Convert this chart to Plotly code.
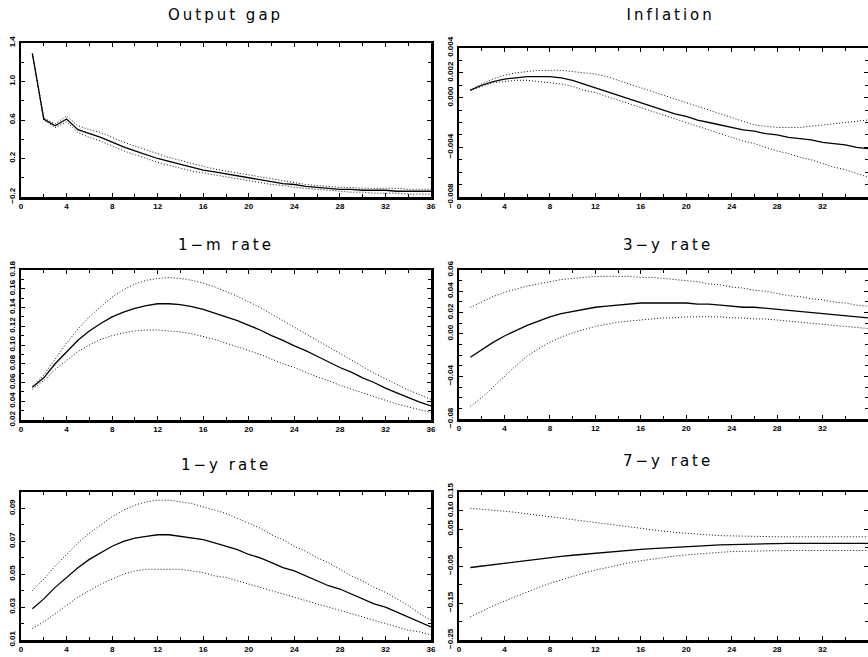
import plotly.graph_objects as go
from plotly.subplots import make_subplots

periods = list(range(1, 37))

titles = ["Output gap", "Inflation", "1−m rate", "3−y rate", "1−y rate", "7−y rate"]

gap_mean = [1.29, 0.61, 0.54, 0.61, 0.50, 0.46, 0.42, 0.37, 0.32, 0.28, 0.24, 0.20, 0.17, 0.14, 0.11, 0.08, 0.06, 0.04,
            0.02, 0.00, -0.02, -0.04, -0.06, -0.07, -0.09, -0.10, -0.11, -0.12, -0.12, -0.13, -0.13, -0.13, -0.14, -0.14, -0.14, -0.14]
gap_upper = [1.29, 0.62, 0.56, 0.64, 0.54, 0.50, 0.47, 0.42, 0.37, 0.33, 0.29, 0.25, 0.21, 0.18, 0.15, 0.12, 0.09, 0.07,
             0.05, 0.03, 0.01, -0.01, -0.03, -0.05, -0.07, -0.08, -0.09, -0.10, -0.10, -0.11, -0.11, -0.11, -0.11, -0.12, -0.12, -0.12]
gap_lower = [1.29, 0.60, 0.52, 0.58, 0.47, 0.42, 0.38, 0.33, 0.28, 0.24, 0.20, 0.16, 0.13, 0.10, 0.07, 0.05, 0.03, 0.01,
             -0.01, -0.03, -0.05, -0.07, -0.08, -0.10, -0.11, -0.12, -0.13, -0.14, -0.15, -0.15, -0.16, -0.16, -0.16, -0.17, -0.17, -0.17]

infl_mean = [0.0006, 0.0010, 0.0013, 0.0015, 0.0016, 0.0017, 0.0017, 0.0017, 0.0016, 0.0014, 0.0011, 0.0008, 0.0005, 0.0002,
             -0.0001, -0.0004, -0.0007, -0.0010, -0.0013, -0.0015, -0.0018, -0.0020, -0.0022, -0.0024, -0.0026, -0.0027,
             -0.0029, -0.0030, -0.0032, -0.0033, -0.0034, -0.0036, -0.0037, -0.0038, -0.0040, -0.0041]
infl_upper = [0.0006, 0.0011, 0.0015, 0.0018, 0.0020, 0.0021, 0.0022, 0.0022, 0.0022, 0.0021, 0.0020, 0.0019, 0.0017, 0.0014,
              0.0011, 0.0008, 0.0005, 0.0002, -0.0001, -0.0004, -0.0007, -0.0010, -0.0013, -0.0016, -0.0019, -0.0022,
              -0.0023, -0.0024, -0.0024, -0.0024, -0.0023, -0.0022, -0.0021, -0.0020, -0.0019, -0.0018]
infl_lower = [0.0006, 0.0009, 0.0012, 0.0013, 0.0014, 0.0014, 0.0013, 0.0012, 0.0011, 0.0009, 0.0006, 0.0004, 0.0001, -0.0002,
              -0.0005, -0.0008, -0.0011, -0.0014, -0.0017, -0.0020, -0.0023, -0.0026, -0.0029, -0.0032, -0.0035, -0.0037,
              -0.0040, -0.0043, -0.0045, -0.0048, -0.0050, -0.0053, -0.0056, -0.0058, -0.0061, -0.0064]

m1_mean = [0.055, 0.065, 0.080, 0.093, 0.105, 0.115, 0.123, 0.130, 0.135, 0.139, 0.142, 0.144, 0.144, 0.143, 0.141, 0.138,
           0.134, 0.130, 0.126, 0.121, 0.116, 0.110, 0.105, 0.099, 0.094, 0.088, 0.082, 0.076, 0.071, 0.065, 0.060, 0.054,
           0.049, 0.044, 0.039, 0.035]
m1_upper = [0.056, 0.068, 0.085, 0.102, 0.117, 0.130, 0.141, 0.151, 0.159, 0.165, 0.169, 0.171, 0.172, 0.171, 0.169, 0.166,
            0.162, 0.157, 0.152, 0.146, 0.140, 0.133, 0.126, 0.119, 0.112, 0.105, 0.098, 0.091, 0.084, 0.077, 0.070, 0.064,
            0.058, 0.052, 0.047, 0.042]
m1_lower = [0.053, 0.062, 0.074, 0.084, 0.093, 0.100, 0.106, 0.110, 0.113, 0.115, 0.116, 0.116, 0.115, 0.114, 0.112, 0.109,
            0.106, 0.102, 0.098, 0.094, 0.090, 0.085, 0.080, 0.076, 0.071, 0.066, 0.062, 0.057, 0.053, 0.049, 0.045, 0.041,
            0.037, 0.034, 0.031, 0.028]

y3_mean = [-0.022, -0.015, -0.008, -0.002, 0.003, 0.008, 0.012, 0.016, 0.019, 0.021, 0.023, 0.025, 0.026, 0.027, 0.028, 0.029,
           0.029, 0.029, 0.029, 0.029, 0.028, 0.028, 0.027, 0.026, 0.025, 0.025, 0.024, 0.023, 0.022, 0.021, 0.020, 0.019,
           0.018, 0.017, 0.016, 0.015]
y3_upper = [0.025, 0.030, 0.035, 0.039, 0.042, 0.045, 0.047, 0.049, 0.051, 0.052, 0.053, 0.054, 0.054, 0.054, 0.054, 0.053,
            0.053, 0.052, 0.051, 0.050, 0.049, 0.047, 0.046, 0.044, 0.043, 0.041, 0.040, 0.038, 0.036, 0.035, 0.033, 0.032,
            0.030, 0.029, 0.027, 0.026]
y3_lower = [-0.068, -0.060, -0.050, -0.040, -0.030, -0.021, -0.014, -0.008, -0.003, 0.001, 0.004, 0.007, 0.009, 0.011, 0.012,
            0.013, 0.014, 0.015, 0.015, 0.016, 0.016, 0.016, 0.016, 0.015, 0.015, 0.014, 0.014, 0.013, 0.012, 0.011, 0.010,
            0.009, 0.008, 0.007, 0.006, 0.005]

y1_mean = [0.029, 0.035, 0.042, 0.048, 0.054, 0.059, 0.063, 0.067, 0.070, 0.072, 0.073, 0.074, 0.074, 0.073, 0.072, 0.071,
           0.069, 0.067, 0.065, 0.062, 0.060, 0.057, 0.054, 0.052, 0.049, 0.046, 0.043, 0.041, 0.038, 0.035, 0.032, 0.030,
           0.027, 0.024, 0.021, 0.018]
y1_upper = [0.040, 0.047, 0.055, 0.062, 0.069, 0.075, 0.080, 0.085, 0.089, 0.092, 0.094, 0.095, 0.095, 0.094, 0.093, 0.091,
            0.089, 0.087, 0.084, 0.081, 0.078, 0.074, 0.071, 0.067, 0.064, 0.060, 0.057, 0.053, 0.049, 0.046, 0.042, 0.039,
            0.035, 0.031, 0.026, 0.022]
y1_lower = [0.017, 0.021, 0.026, 0.031, 0.036, 0.040, 0.044, 0.047, 0.050, 0.052, 0.053, 0.053, 0.053, 0.053, 0.052, 0.051,
            0.049, 0.048, 0.046, 0.044, 0.042, 0.040, 0.038, 0.036, 0.034, 0.032, 0.030, 0.028, 0.026, 0.024, 0.022, 0.020,
            0.018, 0.016, 0.015, 0.013]

y7_mean = [-0.054, -0.050, -0.046, -0.042, -0.038, -0.034, -0.031, -0.027, -0.024, -0.021, -0.018, -0.015, -0.012, -0.010,
           -0.007, -0.005, -0.003, -0.001, 0.001, 0.003, 0.004, 0.006, 0.007, 0.008, 0.009, 0.010, 0.010, 0.011, 0.011,
           0.011, 0.011, 0.011, 0.011, 0.011, 0.011, 0.011]
y7_upper = [0.106, 0.104, 0.101, 0.098, 0.095, 0.091, 0.087, 0.083, 0.079, 0.075, 0.071, 0.066, 0.062, 0.058, 0.054, 0.050,
            0.047, 0.044, 0.041, 0.038, 0.036, 0.034, 0.032, 0.031, 0.030, 0.030, 0.029, 0.029, 0.029, 0.029, 0.029, 0.029,
            0.029, 0.029, 0.029, 0.029]
y7_lower = [-0.187, -0.172, -0.158, -0.145, -0.132, -0.120, -0.108, -0.097, -0.087, -0.078, -0.069, -0.061, -0.054, -0.047,
            -0.041, -0.036, -0.031, -0.027, -0.023, -0.020, -0.017, -0.015, -0.013, -0.011, -0.010, -0.009, -0.008, -0.008,
            -0.008, -0.008, -0.008, -0.008, -0.008, -0.008, -0.008, -0.008]

x_ticks = [0, 4, 8, 12, 16, 20, 24, 28, 32, 36]

# per panel: y range, labelled ticks, tick text, minor tick step
y_ranges = [[-0.2, 1.4], [-0.008, 0.004], [0.02, 0.18], [-0.08, 0.06], [0.01, 0.10], [-0.25, 0.15]]
y_tickvals = [
    [-0.2, 0.2, 0.6, 1.0, 1.4],
    [-0.008, -0.004, 0.0, 0.002, 0.004],
    [0.02, 0.04, 0.06, 0.08, 0.10, 0.12, 0.14, 0.16, 0.18],
    [-0.08, -0.04, 0.0, 0.02, 0.04, 0.06],
    [0.01, 0.03, 0.05, 0.07, 0.09],
    [-0.25, -0.15, -0.05, 0.05, 0.10, 0.15],
]
y_ticktext = [
    ["−0.2", "0.2", "0.6", "1.0", "1.4"],
    ["−0.008", "−0.004", "0.000", "0.002", "0.004"],
    ["0.02", "0.04", "0.06", "0.08", "0.10", "0.12", "0.14", "0.16", "0.18"],
    ["−0.08", "−0.04", "0.00", "0.02", "0.04", "0.06"],
    ["0.01", "0.03", "0.05", "0.07", "0.09"],
    ["−0.25", "−0.15", "−0.05", "0.05", "0.10", "0.15"],
]
y_minor = [0.2, 0.001, 0.01, 0.01, 0.01, 0.05]

series = [
    (gap_mean, gap_upper, gap_lower),
    (infl_mean, infl_upper, infl_lower),
    (m1_mean, m1_upper, m1_lower),
    (y3_mean, y3_upper, y3_lower),
    (y1_mean, y1_upper, y1_lower),
    (y7_mean, y7_upper, y7_lower),
]

W, H = 868, 657
# pixel boxes: (left, right, top, bottom)
boxes = [
    (21, 431, 43, 197), (459, 868, 48, 197),
    (21, 431, 270, 420), (459, 868, 270, 419),
    (21, 431, 492, 640), (459, 868, 492, 640),
]
title_pos = [(226, 15), (670, 15), (226, 245), (668, 245), (226, 465), (668, 461)]

fig = make_subplots(rows=3, cols=2)

for i, (mean, up, lo) in enumerate(series):
    r, c = i // 2 + 1, i % 2 + 1
    for vals, dash, col, w in [(up, "1px,2px", "#111111", 1.0), (lo, "1px,2px", "#111111", 1.0), (mean, "solid", "black", 1.3)]:
        fig.add_trace(go.Scatter(x=periods, y=vals, mode="lines",
                                 line=dict(color=col, width=w, dash=dash),
                                 showlegend=False, hoverinfo="skip", cliponaxis=False), row=r, col=c)
    L, R, T, B = boxes[i]
    xa = "xaxis" if i == 0 else f"xaxis{i+1}"
    ya = "yaxis" if i == 0 else f"yaxis{i+1}"
    fig.layout[xa].update(
        domain=[L / W, R / W], range=[0, 36], tickmode="array", tickvals=x_ticks,
        ticktext=[str(v) for v in x_ticks], ticks="inside", ticklen=4, tickwidth=1,
        tickcolor="black", showline=True, linecolor="black", linewidth=2.5, mirror="ticks",
        showgrid=False, zeroline=False, automargin=False,
        tickfont=dict(family="Liberation Sans", size=8, color="black", weight="bold"),
        minor=dict(tickmode="linear", tick0=0, dtick=2, ticks="inside", ticklen=3, tickcolor="black", showgrid=False),
    )
    fig.layout[ya].update(
        domain=[1 - B / H, 1 - T / H], range=y_ranges[i], tickmode="array",
        tickvals=y_tickvals[i], ticktext=y_ticktext[i], tickangle=-90,
        ticks="inside", ticklen=4, tickwidth=1, tickcolor="black",
        showline=True, linecolor="black", linewidth=2.5, mirror="ticks",
        showgrid=False, zeroline=False, automargin=False,
        tickfont=dict(family="Liberation Sans", size=8, color="black", weight="bold"),
        minor=dict(tickmode="linear", tick0=y_ranges[i][0], dtick=y_minor[i], ticks="inside", ticklen=3,
                   tickcolor="black", showgrid=False),
    )
    tx, ty = title_pos[i]
    fig.add_annotation(text=titles[i], x=tx / W, y=1 - ty / H, xref="paper", yref="paper",
                       showarrow=False, xanchor="center", yanchor="middle",
                       font=dict(family="DejaVu Sans", size=15, color="black"))

fig.update_layout(width=W, height=H, margin=dict(l=0, r=0, t=0, b=0, autoexpand=False),
                  paper_bgcolor="white", plot_bgcolor="white", hovermode=False)

fig.write_html("out.html", config={"displayModeBar": False, "staticPlot": True},
               post_script="document.body.style.margin='0';document.body.style.padding='0';"
                           "document.querySelectorAll('.annotation-text').forEach(function(e){e.style.letterSpacing='3px';});")
